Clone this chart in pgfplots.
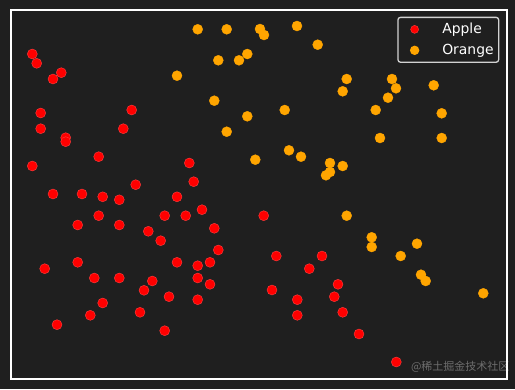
\documentclass[border=0pt]{standalone}
\usepackage{pgfplots}
\pgfplotsset{compat=1.18}
\usepackage{fontspec}
\setmainfont{DejaVu Sans}
\newfontfamily\cjk{Noto Sans CJK SC}
\definecolor{bg}{RGB}{31,31,31}
\definecolor{apple}{RGB}{255,0,0}
\definecolor{orange}{RGB}{255,165,0}
\begin{document}
\begin{tikzpicture}[x=1pt,y=1pt]
\fill[bg] (-11,-10) rectangle (504,379);
\begin{axis}[
  at={(0,0)}, anchor=south west,
  scale only axis, width=496pt, height=369pt,
  xmin=11, xmax=507, ymin=10, ymax=379, y dir=reverse,
  xtick=\empty, ytick=\empty,
  axis background/.style={fill=bg},
  axis line style={white, line width=1.2pt},
  legend style={at={(1,1)}, anchor=north east, xshift=-7.7pt, yshift=-6.7pt,
    draw=white!65!gray, line width=1.3pt, rounded corners=2.5pt, fill=bg, text=white,
    font=\fontsize{13.9}{16}\selectfont, inner xsep=3pt, inner ysep=4pt,
    row sep=5pt},
  legend cell align=left,
  legend image code/.code={\draw[#1, mark size=4pt] plot coordinates {(13pt,0pt)};\path (0pt,0pt) (38pt,0pt);},
]
\addplot[only marks, mark=*, mark size=5pt, mark options={fill=apple, draw=apple!75!white, line width=0.4pt}] coordinates {
(32.3,54) (36.7,63.3) (61.3,72.7) (53,79) (40.7,113) (131.7,110) (40.7,128.7) (123.3,128.7)
(65.7,137.7) (65.7,141.7) (98.7,156.7) (32.3,166) (189.3,163) (193.7,181.7) (135.7,184.7)
(53,194) (82,194) (102.7,196.8) (119.3,199.8) (177,196.8) (98.7,215.7) (164.7,215.7)
(185.7,215.7) (202,209.7) (77.7,225) (119.3,225) (148.3,231.3) (214.3,228.3) (160.7,240.7)
(218.3,250) (44.7,268.7) (77.7,262.3) (177,262.3) (197.7,265.7) (210,262.3) (94.3,278)
(119.3,278) (152.3,281) (197.7,278) (210,284.3) (144,290.3) (169,296.7) (197.7,299.7)
(102.7,303) (90.3,315.3) (140,312.3) (57,324.7) (164.7,330.7) (263.7,215.7) (276.3,256)
(322,256) (309.3,268.7) (272,290) (338,284.3) (297.3,299.7) (334.3,296.7) (297.3,315.3)
(342.7,312.3) (359,334) (396.3,362)
};
\addlegendentry{Apple}
\addplot[only marks, mark=*, mark size=5pt, mark options={fill=orange, draw=orange}] coordinates {
(197.7,29.3) (226.7,29.3) (260,29) (264,35) (297,26) (317.7,44.7) (218.3,60.3) (239,60.3)
(247.3,54) (177,75.7) (214.3,100.7) (247.3,116.3) (226.7,131.7) (255.3,159.7) (346.7,79)
(342.7,91.3) (392,79) (396,88.3) (388,97.7) (433.7,85.3) (284.7,110) (375.7,110)
(441.7,113.3) (380,138) (441.7,138) (289,150.3) (301,156.7) (330,163) (342.7,166)
(330,172) (326,175.3) (346.7,215.7) (371.7,237.3) (371.7,247) (417,243.7) (400.7,256)
(421,274.7) (425.7,281) (483.3,293.3)
};
\addlegendentry{Orange}
\end{axis}
\node[anchor=east, text=white, opacity=0.35, font=\cjk\fontsize{11}{12}\selectfont] at (502,12) {@稀土掘金技术社区};
\end{tikzpicture}
\end{document}
